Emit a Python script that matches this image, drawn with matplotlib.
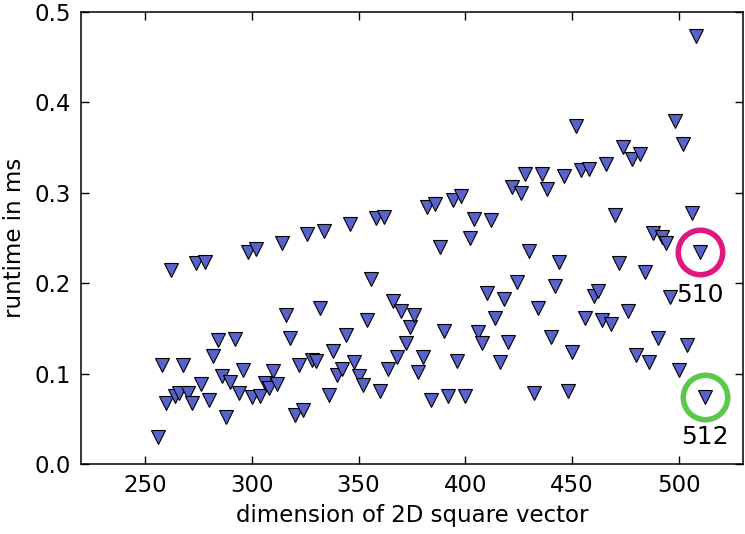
import numpy as np
import matplotlib
matplotlib.use('Agg')
import matplotlib.pyplot as plt

# dimension of the square vector (every even size 256..512)
dims = np.arange(256, 514, 2)

# runtime in ms, one per dimension
runtime = [
    0.030, 0.110, 0.068, 0.215, 0.075, 0.078, 0.110, 0.078, 0.068, 0.222,
    0.089, 0.224, 0.071, 0.120, 0.137, 0.097, 0.052, 0.091, 0.138, 0.079,
    0.104, 0.234, 0.074, 0.238, 0.075, 0.090, 0.084, 0.103, 0.089, 0.244,
    0.165, 0.139, 0.054, 0.109, 0.060, 0.254, 0.115, 0.114, 0.173, 0.258,
    0.076, 0.125, 0.099, 0.105, 0.143, 0.266, 0.113, 0.097, 0.087, 0.159,
    0.205, 0.272, 0.081, 0.273, 0.105, 0.180, 0.118, 0.169, 0.134, 0.151,
    0.165, 0.102, 0.118, 0.284, 0.071, 0.288, 0.240, 0.147, 0.075, 0.292,
    0.114, 0.296, 0.075, 0.250, 0.271, 0.146, 0.134, 0.189, 0.270, 0.161,
    0.113, 0.183, 0.135, 0.306, 0.201, 0.300, 0.321, 0.236, 0.079, 0.173,
    0.321, 0.304, 0.140, 0.197, 0.224, 0.319, 0.081, 0.124, 0.374, 0.325,
    0.162, 0.326, 0.186, 0.191, 0.159, 0.332, 0.155, 0.275, 0.222, 0.351,
    0.169, 0.337, 0.121, 0.343, 0.212, 0.113, 0.256, 0.139, 0.251, 0.244,
    0.185, 0.379, 0.104, 0.354, 0.132, 0.278, 0.474, 0.234, 0.074,
]

# highlighted sizes
marked = [510, 512]
mark_colors = ['#E0177F', '#5CC84A']

fig = plt.figure(figsize=(7.45, 5.34), dpi=100)
ax = fig.add_axes([0.1087, 0.1311, 0.8886, 0.8464])

ax.plot(dims, runtime, linestyle='none', marker='v', markersize=9.5,
        markerfacecolor='#5762CB', markeredgecolor='black', markeredgewidth=0.8)

lookup = dict(zip(dims, runtime))
for d, c in zip(marked, mark_colors):
    ax.plot(d, lookup[d], linestyle='none', marker='o', markersize=32,
            markerfacecolor='none', markeredgecolor=c, markeredgewidth=4,
            clip_on=False)
ax.text(510, 0.187, '510', fontsize=18, ha='center', va='center')
ax.text(512, 0.030, '512', fontsize=18, ha='center', va='center')

ax.set_xlim(220, 530)
ax.set_ylim(0, 0.5)
ax.set_xticks([250, 300, 350, 400, 450, 500])
ax.set_yticks([0.0, 0.1, 0.2, 0.3, 0.4, 0.5])
ax.set_yticklabels(['0.0', '0.1', '0.2', '0.3', '0.4', '0.5'])
ax.tick_params(direction='in', top=True, right=True, length=6, width=1,
               labelsize=16.5, pad=7)
ax.set_xlabel('dimension of 2D square vector', fontsize=16.5, labelpad=5)
ax.set_ylabel('runtime in ms', fontsize=16.5, labelpad=6)
for s in ax.spines.values():
    s.set_linewidth(1.1)

fig.savefig('out.png', dpi=100)
